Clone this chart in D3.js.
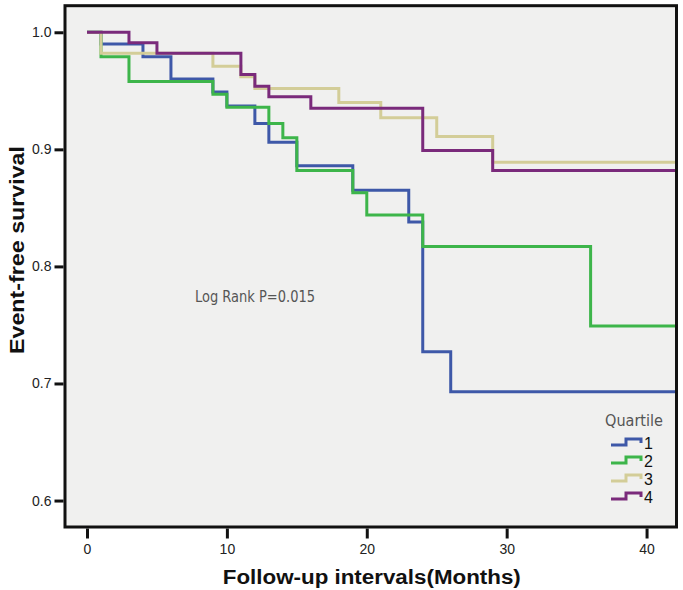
<!DOCTYPE html>
<html>
<head>
<meta charset="utf-8">
<script src="https://cdn.jsdelivr.net/npm/d3@7"></script>
<style>
  html, body { margin: 0; padding: 0; background: #ffffff; }
  svg { display: block; }
</style>
</head>
<body>
<svg id="chart" width="683" height="590"></svg>
<script>
// ---- data ----
const quartiles = ["1", "2", "3", "4"];
const colors = ["#3e58a8", "#3db54a", "#d3cd98", "#7a2a7b"];
const q1Times = [0, 1, 4, 6, 9, 10, 12, 13, 15, 19, 23, 24, 26];
const q1Surv  = [1.0, 0.990, 0.979, 0.960, 0.949, 0.937, 0.922, 0.906, 0.886, 0.865, 0.838, 0.727, 0.693];
const q2Times = [0, 1, 3, 9, 10, 13, 14, 15, 19, 20, 24, 36];
const q2Surv  = [1.0, 0.979, 0.958, 0.947, 0.936, 0.922, 0.910, 0.882, 0.863, 0.844, 0.817, 0.749];
const q3Times = [0, 1, 9, 11, 12, 18, 21, 25, 29];
const q3Surv  = [1.0, 0.982, 0.971, 0.962, 0.952, 0.940, 0.927, 0.911, 0.889];
const q4Times = [0, 3, 5, 11, 12, 13, 16, 24, 29];
const q4Surv  = [1.0, 0.991, 0.982, 0.964, 0.954, 0.945, 0.935, 0.899, 0.882];
const xTicks = [0, 10, 20, 30, 40];
const yTicks = [0.6, 0.7, 0.8, 0.9, 1.0];
const xTitle = "Follow-up intervals(Months)";
const yTitle = "Event-free survival";
const annotation = "Log Rank P=0.015";
const legendTitle = "Quartile";

const seriesTimes = [q1Times, q2Times, q3Times, q4Times];
const seriesSurv = [q1Surv, q2Surv, q3Surv, q4Surv];

(function () {
// ---- layout ----
const svg = d3.select("#chart");
const pLeft = 65, pRight = 676.5, pTop = 5.7, pBottom = 527;
const xDomain = [-1.573, 42.14];
const yDomain = [0.5774, 1.0227];
const x = d3.scaleLinear().domain(xDomain).range([pLeft, pRight]);
const y = d3.scaleLinear().domain(yDomain).range([pBottom, pTop]);

// plot background
svg.append("rect")
  .attr("x", pLeft).attr("y", pTop)
  .attr("width", pRight - pLeft).attr("height", pBottom - pTop)
  .attr("fill", "#f0f0ef");

// curves
const line = d3.line()
  .x(d => x(d[0]))
  .y(d => y(d[1]))
  .curve(d3.curveStepAfter);

const plotG = svg.append("g");
quartiles.forEach((q, i) => {
  const pts = seriesTimes[i].map((t, j) => [t, seriesSurv[i][j]]);
  pts.push([xDomain[1], seriesSurv[i][seriesSurv[i].length - 1]]);
  plotG.append("path")
    .datum(pts)
    .attr("fill", "none")
    .attr("stroke", colors[i])
    .attr("stroke-width", 3)
    .attr("stroke-linejoin", "miter")
    .attr("d", line);
});

// frame
svg.append("rect")
  .attr("x", pLeft).attr("y", pTop)
  .attr("width", pRight - pLeft).attr("height", pBottom - pTop)
  .attr("fill", "none")
  .attr("stroke", "#111")
  .attr("stroke-width", 3);

// y axis
const yAxis = d3.axisLeft(y).tickValues(yTicks).tickFormat(d3.format(".1f")).tickSize(9).tickPadding(3);
const yg = svg.append("g").attr("transform", `translate(${pLeft - 1.5},0)`).call(yAxis);
yg.select(".domain").remove();
yg.selectAll(".tick line").attr("stroke", "#111").attr("stroke-width", 3);
yg.selectAll(".tick text")
  .attr("font-family", "Liberation Sans, Arial, sans-serif")
  .attr("font-size", 14).attr("fill", "#222");

// x axis
const xAxis = d3.axisBottom(x).tickValues(xTicks).tickFormat(d3.format("d")).tickSize(10).tickPadding(6);
const xg = svg.append("g").attr("transform", `translate(0,${pBottom + 1.5})`).call(xAxis);
xg.select(".domain").remove();
xg.selectAll(".tick line").attr("stroke", "#111").attr("stroke-width", 3);
xg.selectAll(".tick text")
  .attr("font-family", "Liberation Sans, Arial, sans-serif")
  .attr("font-size", 14).attr("fill", "#222");

// axis titles
svg.append("text")
  .attr("x", (x(0) + x(40)) / 2 + 5).attr("y", 584)
  .attr("text-anchor", "middle")
  .attr("font-family", "Liberation Sans, Arial, sans-serif")
  .attr("font-weight", "bold").attr("font-size", 20)
  .attr("textLength", 298).attr("lengthAdjust", "spacingAndGlyphs")
  .attr("fill", "#111")
  .text(xTitle);

svg.append("text")
  .attr("transform", `translate(24,250) rotate(-90)`)
  .attr("text-anchor", "middle")
  .attr("font-family", "Liberation Sans, Arial, sans-serif")
  .attr("font-weight", "bold").attr("font-size", 20)
  .attr("textLength", 208).attr("lengthAdjust", "spacingAndGlyphs")
  .attr("fill", "#111")
  .text(yTitle);

// annotation
svg.append("text")
  .attr("x", 195).attr("y", 302)
  .attr("font-family", "Liberation Sans Narrow, DejaVu Sans Condensed, sans-serif")
  .attr("font-size", 15)
  .attr("textLength", 120).attr("lengthAdjust", "spacingAndGlyphs")
  .attr("fill", "#555")
  .text(annotation);

// legend
const lg = svg.append("g");
lg.append("text")
  .attr("x", 605).attr("y", 426)
  .attr("font-family", "Liberation Sans Narrow, DejaVu Sans Condensed, sans-serif")
  .attr("font-size", 15)
  .attr("textLength", 58).attr("lengthAdjust", "spacingAndGlyphs")
  .attr("fill", "#555")
  .text(legendTitle);

quartiles.forEach((q, i) => {
  const cy = 443 + i * 18;
  const sym = d3.line()([[611, cy + 2], [626, cy + 2], [626, cy - 4], [641, cy - 4], [641, cy]]);
  lg.append("path")
    .attr("d", sym)
    .attr("fill", "none")
    .attr("stroke", colors[i])
    .attr("stroke-width", 3);
  lg.append("text")
    .attr("x", 644).attr("y", cy + 6)
    .attr("font-family", "Liberation Sans, Arial, sans-serif")
    .attr("font-size", 16).attr("fill", "#111")
    .text(q);
});
})();
</script>
</body>
</html>
